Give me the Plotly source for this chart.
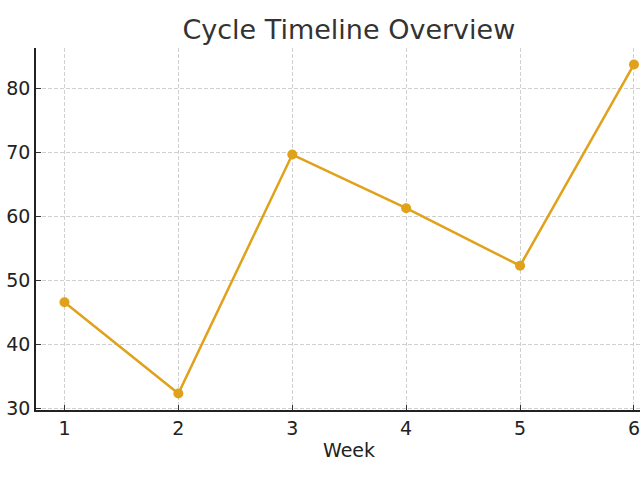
import plotly.graph_objects as go

weeks = [1, 2, 3, 4, 5, 6]
values = [46.6, 32.3, 69.7, 61.3, 52.3, 83.8]
y_ticks = [30, 40, 50, 60, 70, 80]
title_text = "Cycle Timeline Overview"
x_title = "Week"

fig = go.Figure()
fig.add_trace(go.Scatter(
    x=weeks, y=values, mode="lines+markers",
    line=dict(color="#E0A11B", width=2.5),
    marker=dict(color="#E0A11B", size=10),
    cliponaxis=False,
))

fig.update_layout(
    width=640, height=480,
    paper_bgcolor="white", plot_bgcolor="white",
    margin=dict(l=36, r=0, t=48, b=70, autoexpand=False),
    showlegend=False,
    title=dict(text=title_text, xref="paper", x=0.518, xanchor="center",
               yref="container", y=0.938, yanchor="middle",
               font=dict(family="DejaVu Sans", size=27, color="#333333")),
    font=dict(family="DejaVu Sans", color="#222222"),
)
axis_common = dict(
    tickfont=dict(size=19, color="#222222"), ticks="inside", ticklen=5, tickcolor="#333333",
    showgrid=True, gridcolor="#d0d0d0", griddash="4px,2px", gridwidth=1,
    showline=True, linecolor="#222222", linewidth=1.5, zeroline=False,
    automargin=False,
)
fig.update_xaxes(
    range=[0.75, 6.053], tickvals=weeks, ticktext=[str(w) for w in weeks],
    ticklabeloverflow="allow",
    **axis_common,
)
fig.update_yaxes(
    range=[29.725, 86.375], tickvals=y_ticks,
    **axis_common,
)
fig.add_annotation(
    text=x_title, xref="paper", yref="paper", x=0.518, y=-40 / 362,
    xanchor="center", yanchor="middle", showarrow=False,
    font=dict(family="DejaVu Sans", size=19, color="#222222"),
)

fig.write_html(
    "out.html",
    config={"displayModeBar": False},
    post_script="document.body.style.margin='0px';document.body.style.overflow='hidden';",
)
